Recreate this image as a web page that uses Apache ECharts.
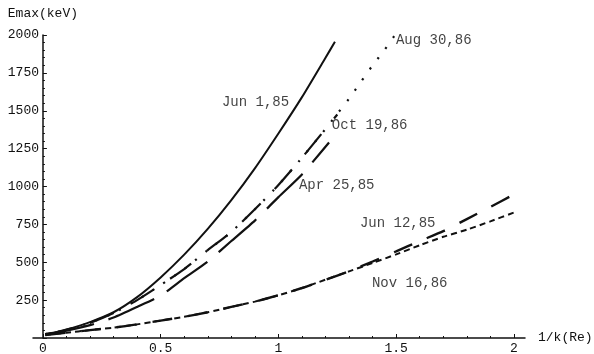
<!DOCTYPE html>
<html><head><meta charset="utf-8">
<script src="https://cdn.jsdelivr.net/npm/echarts@6/dist/echarts.min.js"></script>
<style>html,body{margin:0;padding:0;background:#fff}#c{width:594px;height:354px}</style>
</head><body><div id="c"></div>
<script>
// ---- data ----
const xTickValues = [0, 0.5, 1, 1.5, 2];
const xMinorTickValues = [0.1,0.2,0.3,0.4,0.6,0.7,0.8,0.9,1.1,1.2,1.3,1.4,1.6,1.7,1.8,1.9];
const yTickStep = 250;

const jun1X = [0.01, 0.05, 0.1, 0.2, 0.3, 0.4, 0.5, 0.6, 0.7, 0.8, 0.9, 1.0, 1.1, 1.2, 1.24];
const jun1E = [25, 35, 55, 105, 170, 270, 400, 550, 720, 910, 1120, 1350, 1590, 1850, 1955];

const oct19X = [0.01, 0.05, 0.1, 0.2, 0.3, 0.4, 0.5, 0.6, 0.7, 0.8, 0.9, 1.0, 1.1, 1.2, 1.25];
const oct19E = [25, 35, 55, 100, 165, 250, 350, 455, 580, 700, 850, 1010, 1190, 1380, 1475];

const aug30X = [0.01, 0.05, 0.1, 0.2, 0.3, 0.4, 0.5, 0.6, 0.7, 0.8, 0.9, 1.0, 1.1, 1.2, 1.25, 1.3, 1.35, 1.4, 1.45, 1.495];
const aug30E = [25, 35, 55, 100, 165, 250, 350, 455, 580, 700, 850, 1010, 1190, 1380, 1480, 1580, 1690, 1800, 1900, 2000];

const apr25X = [0.01, 0.05, 0.1, 0.2, 0.3, 0.4, 0.5, 0.6, 0.7, 0.8, 0.9, 1.0, 1.1, 1.215];
const apr25E = [25, 33, 48, 85, 135, 205, 280, 395, 505, 640, 775, 930, 1080, 1290];

const jun12X = [0.01, 0.1, 0.2, 0.3, 0.4, 0.5, 0.6, 0.7, 0.8, 0.9, 1.0, 1.1, 1.2, 1.3, 1.4, 1.5, 1.6, 1.7, 1.8, 1.9, 2.0];
const jun12E = [20, 35, 52, 68, 90, 115, 140, 170, 205, 240, 282, 330, 385, 440, 505, 572, 640, 705, 785, 865, 948];

const nov16X = [0.01, 0.1, 0.2, 0.3, 0.4, 0.5, 0.6, 0.7, 0.8, 0.9, 1.0, 1.1, 1.2, 1.3, 1.4, 1.5, 1.6, 1.7, 1.8, 1.9, 2.0];
const nov16E = [20, 35, 52, 68, 90, 115, 140, 170, 205, 240, 282, 330, 385, 440, 495, 552, 612, 668, 715, 770, 828];

const labelNames = ['Jun 1,85', 'Aug 30,86', 'Oct 19,86', 'Apr 25,85', 'Jun 12,85', 'Nov 16,86'];
const labelX = [0.76, 1.499, 1.227, 1.087, 1.346, 1.397];
const labelE = [1558, 1967, 1406, 1010, 759, 363];

// ---- chart ----
const zip = (xs, ys) => xs.map((x, i) => [x, ys[i]]);
const FONT = 'Liberation Mono';
const INK = '#111';

function curve(name, xs, ys, type, width) {
  return {
    name, type: 'line', data: zip(xs, ys), smooth: 0.2, symbol: 'none',
    xAxisIndex: 0, yAxisIndex: 0,
    lineStyle: { color: INK, width: width || 2, type: type, cap: 'butt' },
    silent: true
  };
}

const chart = echarts.init(document.getElementById('c'), null, { renderer: 'canvas' });
chart.setOption({
  animation: false,
  backgroundColor: '#fff',
  grid: { left: 33, right: 69, top: 35, bottom: 16, containLabel: false, outerBoundsMode: 'none' },
  xAxis: [{
    type: 'value', min: -0.042, max: 2.047, position: 'bottom',
    name: '1/k(Re)', nameLocation: 'end', nameGap: 13,
    nameTextStyle: { fontFamily: FONT, fontSize: 13, color: INK },
    axisLine: { show: true, lineStyle: { color: INK, width: 1.5 } },
    axisTick: { show: true, inside: true, length: 4, customValues: xTickValues, lineStyle: { color: INK, width: 1 } },
    axisLabel: { show: true, customValues: xTickValues, margin: 4, fontFamily: FONT, fontSize: 13, color: INK,
      formatter: v => String(v) },
    splitLine: { show: false }
  }, {
    type: 'value', min: -0.042, max: 2.047, position: 'bottom',
    axisLine: { show: false },
    axisTick: { show: true, inside: true, length: 2, customValues: xMinorTickValues, lineStyle: { color: INK, width: 1 } },
    axisLabel: { show: false },
    splitLine: { show: false }
  }],
  yAxis: {
    type: 'value', min: 0, max: 2000, interval: yTickStep,
    name: 'Emax(keV)', nameLocation: 'end', nameGap: 15,
    nameTextStyle: { fontFamily: FONT, fontSize: 13, color: INK },
    axisLine: { show: true, onZero: true, lineStyle: { color: INK, width: 1.5 } },
    axisTick: { show: true, inside: true, length: 4, lineStyle: { color: INK, width: 1 } },
    minorTick: { show: true, splitNumber: 5, length: 2, lineStyle: { color: INK, width: 1 } },
    axisLabel: { show: true, margin: -6, fontFamily: FONT, fontSize: 13, color: INK,
      showMinLabel: false, formatter: v => String(v) },
    splitLine: { show: false }
  },
  series: [
    curve('Jun 1,85', jun1X, jun1E, 'solid', 2),
    curve('Oct 19,86', oct19X, oct19E, [26, 20], 2.2),
    curve('Aug 30,86', aug30X, aug30E, [2, 11], 2.2),
    curve('Apr 25,85', apr25X, apr25E, [50, 15], 2.2),
    curve('Jun 12,85', jun12X, jun12E, [20, 16], 2.4),
    curve('Nov 16,86', nov16X, nov16E, [6, 4], 2),
    {
      name: 'labels', type: 'scatter', symbolSize: 0, silent: true,
      data: labelX.map((x, i) => ({ value: [x, labelE[i]], name: labelNames[i] })),
      label: { show: true, position: 'right', distance: 0, formatter: '{b}',
        fontFamily: FONT, fontSize: 14, color: INK }
    }
  ]
});
</script>
</body></html>
